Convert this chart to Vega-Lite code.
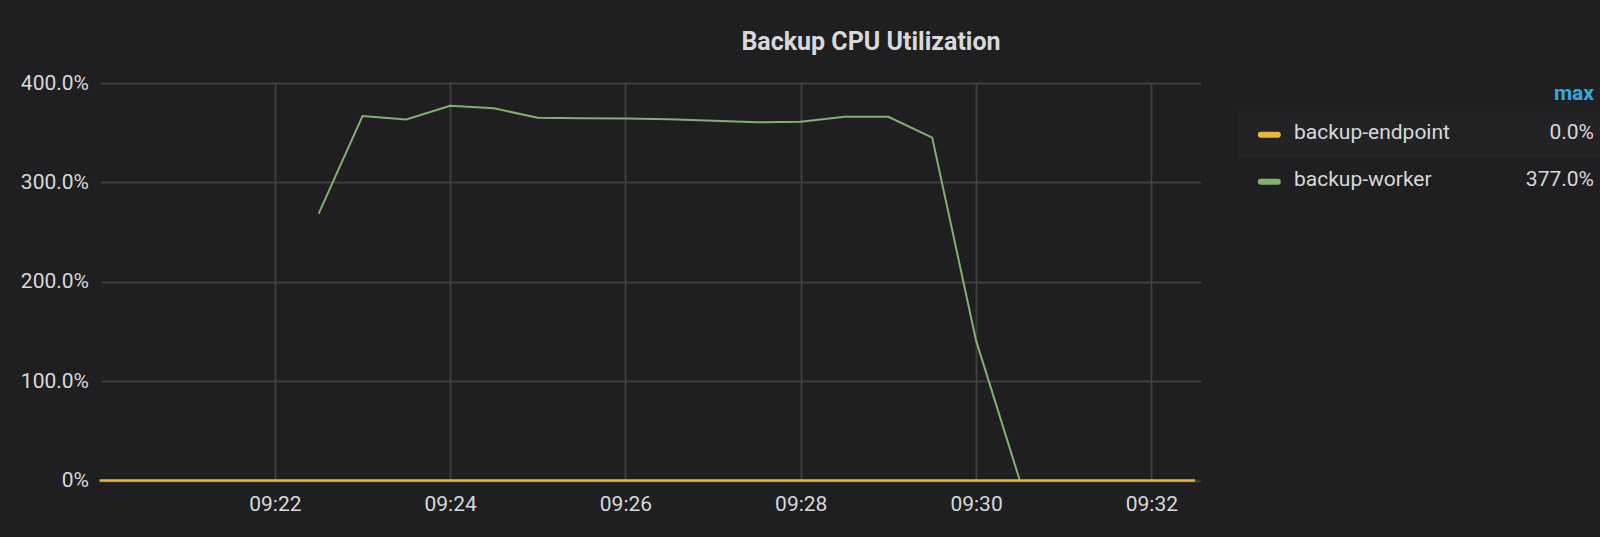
{
  "$schema": "https://vega.github.io/schema/vega-lite/v6.json",
  "background": "#1f1f21",
  "padding": {"left": 19, "top": 29, "right": 0, "bottom": 25},
  "bounds": "flush",
  "spacing": 37,
  "datasets": {
    "cpu": [
      {"time": "2024-01-01T09:20:00", "series": "backup-endpoint", "value": 0},
      {"time": "2024-01-01T09:20:30", "series": "backup-endpoint", "value": 0},
      {"time": "2024-01-01T09:21:00", "series": "backup-endpoint", "value": 0},
      {"time": "2024-01-01T09:21:30", "series": "backup-endpoint", "value": 0},
      {"time": "2024-01-01T09:22:00", "series": "backup-endpoint", "value": 0},
      {"time": "2024-01-01T09:22:30", "series": "backup-endpoint", "value": 0},
      {"time": "2024-01-01T09:23:00", "series": "backup-endpoint", "value": 0},
      {"time": "2024-01-01T09:23:30", "series": "backup-endpoint", "value": 0},
      {"time": "2024-01-01T09:24:00", "series": "backup-endpoint", "value": 0},
      {"time": "2024-01-01T09:24:30", "series": "backup-endpoint", "value": 0},
      {"time": "2024-01-01T09:25:00", "series": "backup-endpoint", "value": 0},
      {"time": "2024-01-01T09:25:30", "series": "backup-endpoint", "value": 0},
      {"time": "2024-01-01T09:26:00", "series": "backup-endpoint", "value": 0},
      {"time": "2024-01-01T09:26:30", "series": "backup-endpoint", "value": 0},
      {"time": "2024-01-01T09:27:00", "series": "backup-endpoint", "value": 0},
      {"time": "2024-01-01T09:27:30", "series": "backup-endpoint", "value": 0},
      {"time": "2024-01-01T09:28:00", "series": "backup-endpoint", "value": 0},
      {"time": "2024-01-01T09:28:30", "series": "backup-endpoint", "value": 0},
      {"time": "2024-01-01T09:29:00", "series": "backup-endpoint", "value": 0},
      {"time": "2024-01-01T09:29:30", "series": "backup-endpoint", "value": 0},
      {"time": "2024-01-01T09:30:00", "series": "backup-endpoint", "value": 0},
      {"time": "2024-01-01T09:30:30", "series": "backup-endpoint", "value": 0},
      {"time": "2024-01-01T09:31:00", "series": "backup-endpoint", "value": 0},
      {"time": "2024-01-01T09:31:30", "series": "backup-endpoint", "value": 0},
      {"time": "2024-01-01T09:32:00", "series": "backup-endpoint", "value": 0},
      {"time": "2024-01-01T09:32:30", "series": "backup-endpoint", "value": 0},
      {"time": "2024-01-01T09:22:30", "series": "backup-worker", "value": 268.6},
      {"time": "2024-01-01T09:23:00", "series": "backup-worker", "value": 366.8},
      {"time": "2024-01-01T09:23:30", "series": "backup-worker", "value": 363.2},
      {"time": "2024-01-01T09:24:00", "series": "backup-worker", "value": 377.0},
      {"time": "2024-01-01T09:24:30", "series": "backup-worker", "value": 374.5},
      {"time": "2024-01-01T09:25:00", "series": "backup-worker", "value": 365.0},
      {"time": "2024-01-01T09:25:30", "series": "backup-worker", "value": 364.5},
      {"time": "2024-01-01T09:26:00", "series": "backup-worker", "value": 364.3},
      {"time": "2024-01-01T09:26:30", "series": "backup-worker", "value": 363.5},
      {"time": "2024-01-01T09:27:00", "series": "backup-worker", "value": 362.0},
      {"time": "2024-01-01T09:27:30", "series": "backup-worker", "value": 360.5},
      {"time": "2024-01-01T09:28:00", "series": "backup-worker", "value": 361.0},
      {"time": "2024-01-01T09:28:30", "series": "backup-worker", "value": 366.0},
      {"time": "2024-01-01T09:29:00", "series": "backup-worker", "value": 366.0},
      {"time": "2024-01-01T09:29:30", "series": "backup-worker", "value": 345.0},
      {"time": "2024-01-01T09:30:00", "series": "backup-worker", "value": 141.0},
      {"time": "2024-01-01T09:30:30", "series": "backup-worker", "value": 0}
    ]
  },
  "data": {"name": "cpu"},
  "hconcat": [
    {
      "width": 1100,
      "height": 397.5,
      "title": {
        "text": "Backup CPU Utilization",
        "anchor": "middle",
        "frame": "group",
        "dx": 220,
        "baseline": "alphabetic",
        "offset": -2.5,
        "fontSize": 25,
        "font": "Roboto",
        "fontWeight": "bold",
        "color": "#d8d9da"
      },
      "encoding": {
        "x": {
          "field": "time",
          "type": "temporal",
          "scale": {
            "domain": [
              {"year": 2024, "month": 1, "date": 1, "hours": 9, "minutes": 20, "seconds": 1},
              {"year": 2024, "month": 1, "date": 1, "hours": 9, "minutes": 32, "seconds": 34}
            ]
          },
          "axis": {
            "title": null,
            "format": "%H:%M",
            "values": [
              {"year": 2024, "month": 1, "date": 1, "hours": 9, "minutes": 22},
              {"year": 2024, "month": 1, "date": 1, "hours": 9, "minutes": 24},
              {"year": 2024, "month": 1, "date": 1, "hours": 9, "minutes": 26},
              {"year": 2024, "month": 1, "date": 1, "hours": 9, "minutes": 28},
              {"year": 2024, "month": 1, "date": 1, "hours": 9, "minutes": 30},
              {"year": 2024, "month": 1, "date": 1, "hours": 9, "minutes": 32}
            ],
            "grid": true,
            "ticks": false,
            "tickSize": 0,
            "domain": false,
            "labelFlush": false,
            "labelPadding": 30,
            "labelBaseline": "alphabetic"
          }
        },
        "y": {
          "field": "value",
          "type": "quantitative",
          "scale": {"domain": [0, 400]},
          "axis": {
            "title": null,
            "values": [0, 100, 200, 300, 400],
            "labelExpr": "datum.value === 0 ? '0%' : format(datum.value, '.1f') + '%'",
            "grid": true,
            "ticks": false,
            "tickSize": 0,
            "domain": false,
            "labelPadding": 12.5,
            "labelBaseline": "middle"
          }
        },
        "color": {
          "field": "series",
          "type": "nominal",
          "scale": {"domain": ["backup-endpoint", "backup-worker"], "range": ["#eab839", "#7eb26d"]},
          "legend": null
        }
      },
      "layer": [
        {
          "transform": [{"filter": "datum.series === 'backup-worker'"}],
          "mark": {"type": "line", "strokeWidth": 2}
        },
        {
          "transform": [{"filter": "datum.series === 'backup-endpoint'"}],
          "mark": {"type": "line", "strokeWidth": 2.5}
        }
      ]
    },
    {
      "width": 363,
      "height": 150.4,
      "title": {
        "text": "max",
        "anchor": "end",
        "frame": "group",
        "dx": -7,
        "baseline": "alphabetic",
        "offset": -38,
        "fontSize": 21,
        "font": "Roboto",
        "fontWeight": "bold",
        "color": "#33a9e0"
      },
      "transform": [
        {"aggregate": [{"op": "max", "field": "value", "as": "maxv"}], "groupby": ["series"]},
        {"calculate": "format(datum.maxv, '.1f') + '%'", "as": "label"}
      ],
      "encoding": {
        "y": {
          "field": "series",
          "type": "nominal",
          "axis": null,
          "scale": {"paddingInner": 0, "paddingOuter": 0.6}
        }
      },
      "layer": [
        {
          "transform": [{"filter": "datum.series === 'backup-endpoint'"}],
          "mark": {"type": "rect", "color": "#232326"}
        },
        {
          "mark": {
            "type": "point",
            "shape": "stroke",
            "size": 289,
            "filled": false,
            "opacity": 1,
            "strokeWidth": 6,
            "strokeCap": "round",
            "xOffset": -150.2
          },
          "encoding": {"color": {"field": "series", "type": "nominal", "legend": null}}
        },
        {
          "mark": {"type": "text", "align": "left", "baseline": "alphabetic", "dx": -125.5, "dy": 4, "font": "Roboto", "fontSize": 21, "color": "#d8d9da"},
          "encoding": {"text": {"field": "series"}}
        },
        {
          "mark": {"type": "text", "align": "right", "baseline": "alphabetic", "dx": 174.5, "dy": 4, "font": "Roboto", "fontSize": 21, "color": "#d8d9da"},
          "encoding": {"text": {"field": "label"}}
        }
      ]
    }
  ],
  "config": {
    "view": {"stroke": "transparent"},
    "axis": {
      "labelFont": "Roboto",
      "labelFontSize": 21,
      "labelColor": "#d8d9da",
      "gridColor": "#3f3f42",
      "gridWidth": 2
    }
  }
}
